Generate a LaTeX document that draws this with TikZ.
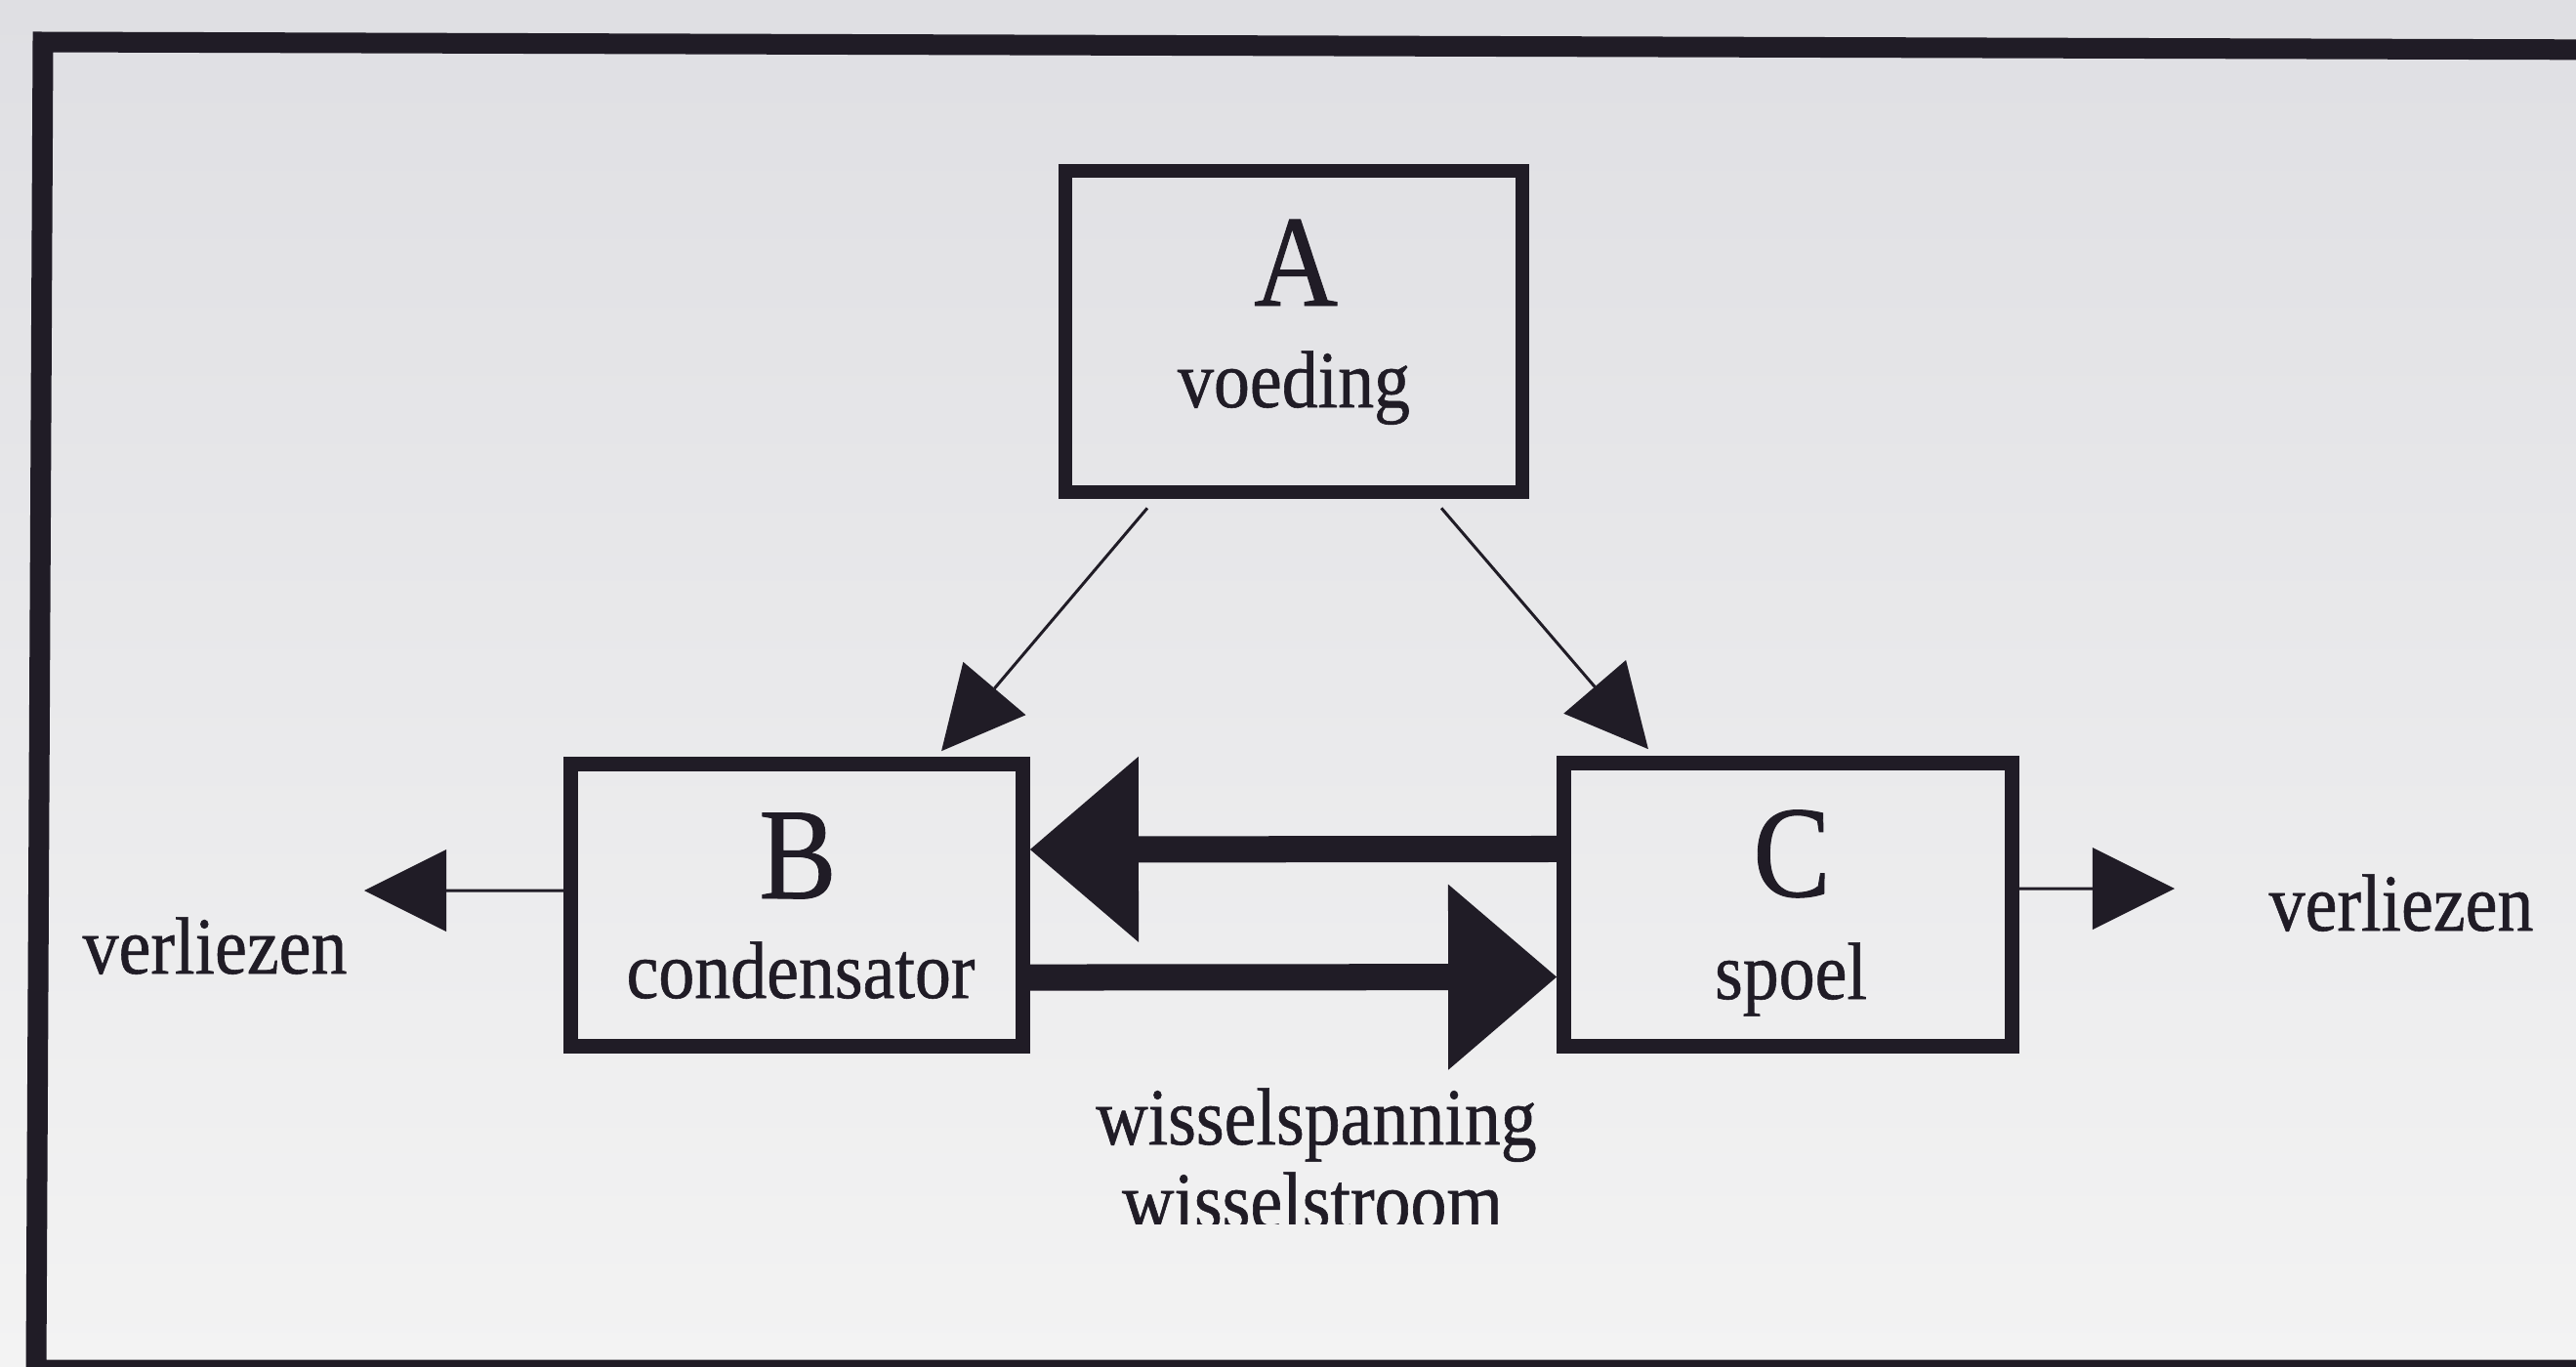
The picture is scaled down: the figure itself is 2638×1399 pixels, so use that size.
\documentclass[tikz,border=0pt]{standalone}
\usepackage{fontspec}
\setmainfont{Liberation Serif}[FakeStretch=0.89,FakeBold=0.7]
\usetikzlibrary{arrows.meta,calc}
\definecolor{ink}{RGB}{32,28,38}
\definecolor{bgtop}{RGB}{223,223,227}
\definecolor{bgbot}{RGB}{243,243,243}
\begin{document}
\begin{tikzpicture}[x=0.01cm,y=-0.01cm,
  blk/.style={draw=ink,line width=0.145cm,rectangle,inner sep=0pt},
  big/.style={font=\fontsize{38}{40}\selectfont,text=ink,anchor=base,inner sep=0pt},
  lbl/.style={font=\fontsize{23.6}{26}\selectfont,text=ink,anchor=base,inner sep=0pt},
  thinarrow/.style={draw=ink,line width=0.03cm,-{Triangle[length=0.84cm,width=0.84cm,line width=0pt]}},
  fatarrow/.style={draw=ink,line width=0.27cm,-{Triangle[length=1.11cm,width=1.9cm,line width=0pt]}}]
\useasboundingbox (0,0) rectangle (2638,1399);
\clip (0,0) rectangle (2638,1399);
\shade[top color=bgtop,bottom color=bgbot] (0,0) rectangle (2638,1399);
% frame
\draw[ink,line width=0.21cm] (2700,51) -- (44,43) -- (37,1403) -- (2700,1403);
% boxes
\node[blk,minimum width=4.68cm,minimum height=3.29cm] (A) at (1325,339.5) {};
\node[blk,minimum width=4.63cm,minimum height=2.89cm] (B) at (816,927) {};
\node[blk,minimum width=4.59cm,minimum height=2.90cm] (C) at (1831,926.5) {};
% texts
\node[big] (tA) at (1327,313) {A};
\node[lbl] (tA2) at (1325,417) {voeding};
\node[big] (tB) at (817,920) {B};
\node[lbl] (tB2) at (820,1022) {condensator};
\node[big] (tC) at (1835,918) {C};
\node[lbl] (tC2) at (1834,1023) {spoel};
\node[lbl] (vl) at (220,997) {verliezen};
\node[lbl] (vr) at (2459,953) {verliezen};
\node[lbl] (w1) at (1348,1172) {wisselspanning};
\begin{scope}
\clip (0,0) rectangle (2638,1253);
\node[lbl] (w2) at (1344,1258) {wisselstroom};
\end{scope}
% connectors
\coordinate (lt) at (373,912);
\coordinate (rt) at (2227,910);
\draw[thinarrow] ([xshift=-1.5cm,yshift=-0.09cm]A.south) -- ([xshift=1.48cm,yshift=0.06cm]B.north);
\draw[thinarrow] ([xshift=1.51cm,yshift=-0.09cm]A.south) -- ([xshift=-1.43cm,yshift=0.07cm]C.north);
\draw[thinarrow] ([yshift=0.15cm]B.west) -- (lt);
\draw[thinarrow] ([yshift=0.165cm]C.east) -- (rt);
\draw[fatarrow] ([yshift=0.57cm]C.west) -- ([yshift=0.57cm]B.east);
\draw[fatarrow] ([yshift=-0.74cm]B.east) -- ([yshift=-0.74cm]C.west);
\end{tikzpicture}
\end{document}
